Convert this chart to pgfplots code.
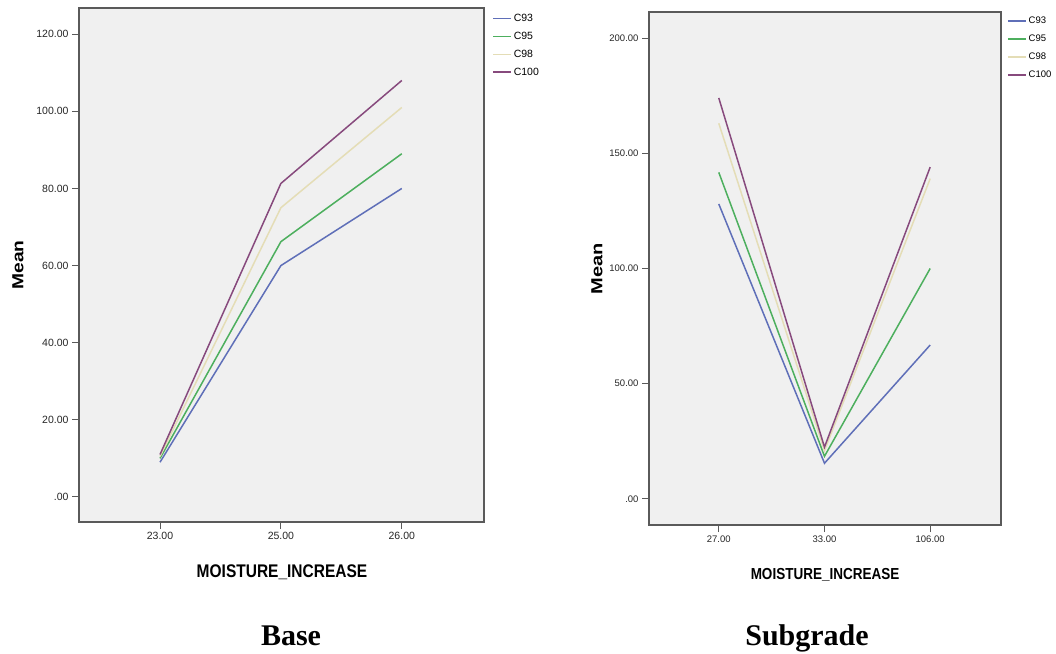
\documentclass[border=0pt]{standalone}
\usepackage{fontspec}
\setmainfont{Liberation Sans}
\newfontfamily\titlefont{Liberation Serif}
\usepackage{graphicx}
\usepackage{pgfplots}
\pgfplotsset{compat=1.18}
\definecolor{cA}{HTML}{5F6FB8}
\definecolor{cB}{HTML}{4DAF5E}
\definecolor{cC}{HTML}{E4DDB6}
\definecolor{cD}{HTML}{874A7D}
\definecolor{bg}{HTML}{F0F0F0}
\definecolor{fr}{HTML}{5A5A5A}
\pgfplotsset{
  spss/.style={
    scale only axis,
    anchor=south west,
    axis background/.style={fill=bg},
    axis line style={draw=fr, line width=1.3pt},
    tick align=outside,
    major tick length=7pt,
    tick style={draw=fr, line width=1pt},
    xtick pos=bottom, ytick pos=left,
    xtick={0,1,2},
    clip=false,
    legend cell align=left,
    legend image code/.code={\draw[#1, line width=1.5pt] (0pt,0pt) -- (18pt,0pt);},
    every axis plot/.append style={line width=1.5pt},
  }
}
\begin{document}
\begin{tikzpicture}[x=1pt,y=1pt]
\path[use as bounding box] (0,0) rectangle (1056,653);
% Base
\begin{axis}[spss,
  at={(79pt,131pt)}, width=405pt, height=514pt,
  xmin=-0.67, xmax=2.68, ymin=-6.5, ymax=126.8,
  xticklabels={23.00,25.00,26.00},
  ytick={0,20,40,60,80,100,120},
  yticklabels={.00,20.00,40.00,60.00,80.00,100.00,120.00},
  tick label style={font=\fontsize{10.5}{12}\selectfont, text=black!85},
  legend style={at={(1.02,0.992)}, anchor=north west, draw=none, fill=none,
    font=\fontsize{10.5}{12}\selectfont, row sep=5pt, inner sep=0pt},
]
\addplot[cA] coordinates {(0,9) (1,60) (2,80)};
\addplot[cB] coordinates {(0,10) (1,66.2) (2,89)};
\addplot[cC] coordinates {(0,10.5) (1,75) (2,101)};
\addplot[cD] coordinates {(0,11) (1,81.3) (2,108)};
\legend{C93,C95,C98,C100}
\end{axis}
% Subgrade
\begin{axis}[spss,
  at={(649pt,128pt)}, width=352pt, height=513pt,
  xmin=-0.66, xmax=2.67, ymin=-11.3, ymax=211.3,
  xticklabels={27.00,33.00,106.00},
  ytick={0,50,100,150,200},
  yticklabels={.00,50.00,100.00,150.00,200.00},
  tick label style={font=\fontsize{9.5}{11}\selectfont, text=black!85},
  legend style={at={(1.017,0.995)}, anchor=north west, draw=none, fill=none,
    font=\fontsize{9.5}{11}\selectfont, row sep=6pt, inner sep=0pt},
]
\addplot[cA] coordinates {(0,128) (1,15.5) (2,66.8)};
\addplot[cB] coordinates {(0,141.7) (1,18.5) (2,100)};
\addplot[cC] coordinates {(0,163) (1,21) (2,139)};
\addplot[cD] coordinates {(0,174) (1,22.5) (2,144)};
\legend{C93,C95,C98,C100}
\end{axis}
% labels
\node[font=\fontsize{15.5}{17}\selectfont\bfseries] at (282,81) {\scalebox{1}[1.18]{MOISTURE\_INCREASE}};
\node[font=\fontsize{13.5}{15}\selectfont\bfseries] at (825,78) {\scalebox{1}[1.18]{MOISTURE\_INCREASE}};
\node[font=\fontsize{16}{18}\selectfont\bfseries] at (18,388) {\rotatebox{90}{\scalebox{1.2}[1]{Mean}}};
\node[font=\fontsize{16}{18}\selectfont\bfseries] at (597,384) {\rotatebox{90}{\scalebox{1.25}[1]{Mean}}};
\node[font=\titlefont\fontsize{30}{34}\selectfont\bfseries, anchor=base] at (291,8) {Base};
\node[font=\titlefont\fontsize{30}{34}\selectfont\bfseries, anchor=base] at (807,8) {Subgrade};
\end{tikzpicture}
\end{document}
